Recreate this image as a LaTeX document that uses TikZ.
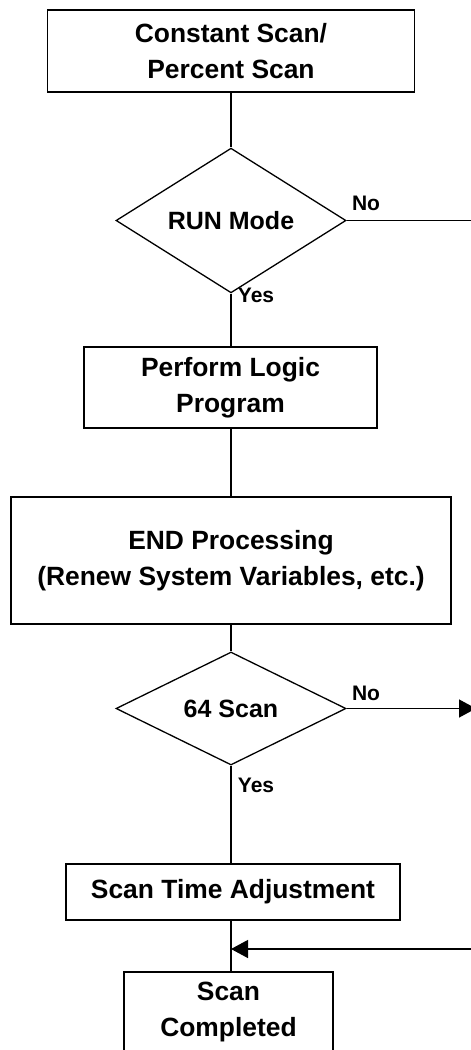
\documentclass[tikz,border=0pt]{standalone}
\usepackage{fontspec}
\setmainfont{Liberation Sans}
\usetikzlibrary{shapes.geometric,arrows.meta}
\begin{document}
\begin{tikzpicture}[x=1pt,y=-1pt,
  box/.style={draw,line width=1.3pt,inner sep=0pt,align=center,font=\fontsize{26.4}{36}\selectfont\bfseries},
  dia/.style={draw,diamond,line width=1.3pt,inner sep=0pt,minimum width=230pt,minimum height=113pt,font=\fontsize{25}{30}\selectfont\bfseries},
  lbl/.style={inner sep=0pt,font=\fontsize{21}{24}\selectfont\bfseries},
  conn/.style={line width=1.3pt},
  arr/.style={line width=1.3pt,-{Triangle[length=17pt,width=18pt]}}]
\useasboundingbox (0,0) rectangle (471,1050);
\clip (0,0) rectangle (471,1050);
\node[box,minimum width=367pt,minimum height=82pt] (start) at (231,51) {Constant Scan/\\Percent Scan};
\node[dia] (run) at (231,220.5) {RUN Mode};
\node[box,minimum width=293pt,minimum height=81pt] (logic) at (230.5,387.5) {Perform Logic\\Program};
\node[box,minimum width=440pt,minimum height=127pt] (endp) at (231,560.5) {END Processing\\(Renew System Variables, etc.)};
\node[dia] (scan64) at (231,708.5) {64 Scan};
\node[box,minimum width=334pt,minimum height=56pt] (sta) at (233,892) {Scan Time Adjustment};
\node[box,minimum width=209pt,minimum height=80pt] (done) at (228.5,1012) {Scan\\Completed};
\node[lbl] (no1) at (366,203.5) {No};
\node[lbl] (yes1) at (256,295) {Yes};
\node[lbl] (no2) at (366,693) {No};
\node[lbl] (yes2) at (256,785) {Yes};
\coordinate (e1) at (471,219.5);
\coordinate (e2) at (476,708.5);
\coordinate (e3) at (475,949);
\draw[conn] (start.south -| run.north) -- (run.north);
\draw[conn] (run.south) -- (run.south |- logic.north);
\draw[conn] (run.south |- logic.south) -- (run.south |- endp.north);
\draw[conn] (run.south |- endp.south) -- (scan64.north);
\draw[conn] (scan64.south) -- (scan64.south |- sta.north);
\draw[conn] (scan64.south |- sta.south) -- (scan64.south |- done.north);
\draw[conn] (run.east) -- (run.east -| e1);
\draw[arr] (scan64.east) -- (scan64.east -| e2);
\draw[arr] (e3) -- (e3 -| scan64.south);
\end{tikzpicture}
\end{document}
